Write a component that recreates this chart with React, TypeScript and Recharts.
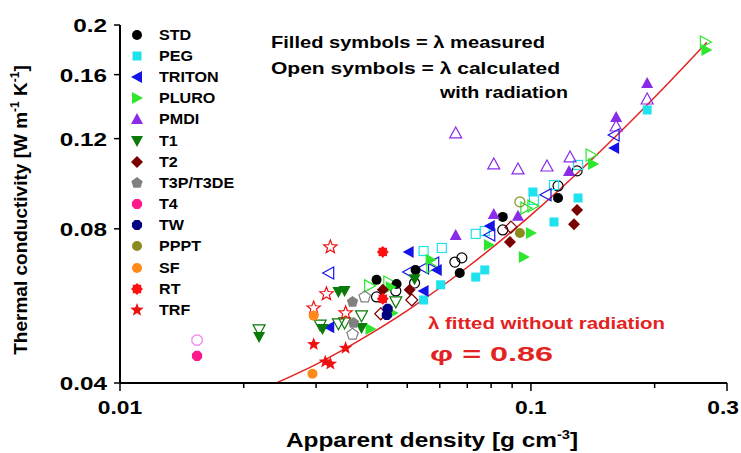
import React from "react";
import { ComposedChart, Scatter, Line, XAxis, YAxis } from "recharts";

// density [g cm-3], conductivity [W m-1 K-1]
const STD = [[0.0421, 0.0636], [0.0471, 0.0624], [0.0524, 0.0665], [0.0671, 0.0656], [0.0854, 0.0844], [0.1164, 0.0919]];
const STD_OPEN = [[0.0421, 0.0589], [0.0469, 0.0605], [0.0521, 0.0627], [0.0653, 0.0689], [0.0679, 0.0702], [0.0854, 0.0796], [0.1164, 0.097], [0.1295, 0.1038]];
const PEG = [[0.0548, 0.0581], [0.0603, 0.0622], [0.0734, 0.0644], [0.0772, 0.0665], [0.1011, 0.0944], [0.1138, 0.0825], [0.1302, 0.0919], [0.1918, 0.1365]];
const PEG_OPEN = [[0.0548, 0.0724], [0.0607, 0.0734], [0.0734, 0.0782], [0.0772, 0.0792], [0.1017, 0.0911], [0.1138, 0.0974], [0.1302, 0.1066]];
const TRITON = [[0.0323, 0.0514], [0.0504, 0.0721], [0.0548, 0.0605], [0.059, 0.0665], [0.0794, 0.081], [0.1594, 0.115]];
const TRITON_OPEN = [[0.0322, 0.0656], [0.0504, 0.0659], [0.0548, 0.0671], [0.058, 0.0686], [0.0794, 0.0778], [0.1088, 0.0932], [0.1594, 0.122]];
const PLURO = [[0.0407, 0.051], [0.0461, 0.0548], [0.0456, 0.0616], [0.057, 0.0696], [0.079, 0.0744], [0.0961, 0.0705], [0.1, 0.0785], [0.1417, 0.1071], [0.2673, 0.1788]];
const PLURO_OPEN = [[0.0405, 0.0619], [0.0451, 0.063], [0.0574, 0.0674], [0.0972, 0.0878], [0.1011, 0.0886], [0.1401, 0.1115], [0.2658, 0.1853]];
const PMDI = [[0.0656, 0.0778], [0.0812, 0.0855], [0.093, 0.0848], [0.1238, 0.1038], [0.1612, 0.1322], [0.1918, 0.1541]];
const PMDI_OPEN = [[0.0656, 0.1231], [0.0812, 0.1071], [0.093, 0.1047], [0.1094, 0.1061], [0.1245, 0.1105], [0.1612, 0.127], [0.1918, 0.1434]];
const T1 = [[0.0218, 0.0492], [0.0311, 0.051], [0.034, 0.0602], [0.0352, 0.0605], [0.0387, 0.0512], [0.0521, 0.0638]];
const T1_OPEN = [[0.0218, 0.0508], [0.0307, 0.0519], [0.034, 0.0522], [0.0352, 0.0524], [0.0387, 0.0541], [0.0469, 0.0576]];
const T2 = [[0.0436, 0.0608], [0.0507, 0.0608], [0.0889, 0.0754], [0.1295, 0.0871], [0.1273, 0.0817]];
const T2_OPEN = [[0.0431, 0.0546], [0.0513, 0.0581], [0.0894, 0.0806]];
const T3P = [[0.0368, 0.0576], [0.037, 0.0524]];
const T3P_OPEN = [[0.0394, 0.0589], [0.0368, 0.0498]];
const T4 = [[0.0154, 0.0452]];
const T4_OPEN = [[0.0154, 0.0485]];
const TW = [[0.0448, 0.0558], [0.0446, 0.0543]];
const PPPT = [[0.094, 0.0785]];
const PPPT_OPEN = [[0.094, 0.0903]];
const SF = [[0.0296, 0.0541], [0.0294, 0.0417]];
const RT = [[0.0436, 0.0721], [0.0436, 0.0584]];
const TRF = [[0.0296, 0.0476], [0.0354, 0.0468], [0.0316, 0.044], [0.0325, 0.0436]];
const TRF_OPEN = [[0.0325, 0.0737], [0.0318, 0.0597], [0.0296, 0.056], [0.0354, 0.0548]];

// red fitted curve
const FIT_DENSITY = [0.024, 0.03, 0.04, 0.05, 0.07, 0.1, 0.15, 0.2, 0.268];
const FIT_LAMBDA = [0.04, 0.0435, 0.0495, 0.0554, 0.0673, 0.0851, 0.1148, 0.1445, 0.185];

const X_TICKS = [0.01, 0.02, 0.03, 0.04, 0.05, 0.06, 0.07, 0.08, 0.09, 0.1, 0.2, 0.3];
const X_LABELS = [0.01, 0.1, 0.3];
const Y_TICKS = [0.04, 0.08, 0.12, 0.16, 0.2];

const FONT = "'Liberation Sans', Arial, sans-serif";
const STRETCH = 1.28; // the original picture is wider than it is tall

const SERIES = [
  { name: "STD", kind: "circle", color: "#000000", filled: STD, open: STD_OPEN },
  { name: "PEG", kind: "square", color: "#1ee3ef", filled: PEG, open: PEG_OPEN },
  { name: "TRITON", kind: "left", color: "#1414e6", filled: TRITON, open: TRITON_OPEN },
  { name: "PLURO", kind: "right", color: "#2ee62e", filled: PLURO, open: PLURO_OPEN },
  { name: "PMDI", kind: "up", color: "#8a2be8", filled: PMDI, open: PMDI_OPEN },
  { name: "T1", kind: "down", color: "#0a7a0a", filled: T1, open: T1_OPEN },
  { name: "T2", kind: "diamond", color: "#7a0000", filled: T2, open: T2_OPEN },
  { name: "T3P/T3DE", kind: "pentagon", color: "#808080", filled: T3P, open: T3P_OPEN },
  { name: "T4", kind: "hexagon", color: "#ff1a8c", filled: T4, open: T4_OPEN, openColor: "#ee82ee" },
  { name: "TW", kind: "hexagon", color: "#000080", filled: TW, open: [] },
  { name: "PPPT", kind: "circle", color: "#8a8a1e", filled: PPPT, open: PPPT_OPEN },
  { name: "SF", kind: "circle", color: "#ff8a1a", filled: SF, open: [] },
  { name: "RT", kind: "gear", color: "#ff1010", filled: RT, open: [] },
  { name: "TRF", kind: "star", color: "#ee1111", filled: TRF, open: TRF_OPEN },
];

const toPts = (arr: number[][]) => arr.map(([x, y]) => ({ x, y }));

function polyPts(cx: number, cy: number, n: number, r: number, r2?: number, rot = -90) {
  const pts: string[] = [];
  const count = r2 ? n * 2 : n;
  for (let i = 0; i < count; i++) {
    const rr = r2 && i % 2 === 1 ? r2 : r;
    const a = ((rot + (360 / count) * i) * Math.PI) / 180;
    pts.push(`${cx + rr * Math.cos(a)},${cy + rr * Math.sin(a)}`);
  }
  return pts.join(" ");
}

function Sym({ kind, cx, cy, color, open }: any) {
  const p = open
    ? { fill: "none", stroke: color, strokeWidth: 1.2 }
    : { fill: color, stroke: "none" };
  switch (kind) {
    case "circle":
      return <circle cx={cx} cy={cy} r={5} {...p} />;
    case "square":
      return <rect x={cx - 4.5} y={cy - 4.5} width={9} height={9} {...p} />;
    case "left":
      return <polygon points={`${cx - 6},${cy} ${cx + 5},${cy - 6} ${cx + 5},${cy + 6}`} {...p} />;
    case "right":
      return <polygon points={`${cx + 6},${cy} ${cx - 5},${cy - 6} ${cx - 5},${cy + 6}`} {...p} />;
    case "up":
      return <polygon points={`${cx},${cy - 6} ${cx - 6},${cy + 5} ${cx + 6},${cy + 5}`} {...p} />;
    case "down":
      return <polygon points={`${cx},${cy + 6} ${cx - 6},${cy - 5} ${cx + 6},${cy - 5}`} {...p} />;
    case "diamond":
      return <polygon points={`${cx},${cy - 6} ${cx + 6},${cy} ${cx},${cy + 6} ${cx - 6},${cy}`} {...p} />;
    case "pentagon":
      return <polygon points={polyPts(cx, cy, 5, 6)} {...p} />;
    case "hexagon":
      return <polygon points={polyPts(cx, cy, 8, 5.5, undefined, -67.5)} {...p} />;
    case "gear":
      return <polygon points={polyPts(cx, cy, 8, 6, 4.5)} {...p} />;
    case "star":
      return <polygon points={polyPts(cx, cy, 5, 7, 3)} {...p} />;
    default:
      return null;
  }
}

function XTick({ x, y, payload }: any) {
  const major = X_LABELS.includes(payload.value);
  const last = payload.value === 0.3;
  return (
    <g>
      <line x1={x} x2={x} y1={y} y2={y + (major ? 8 : 5)} stroke="#000" strokeWidth={1.5} />
      {major && (
        <text
          transform={`translate(${last ? x + 12 : x},${y + 31}) scale(1.2,1)`}
          textAnchor={last ? "end" : "middle"}
          fontFamily={FONT}
          fontWeight="bold"
          fontSize={19}
          fill="#000"
        >
          {payload.value}
        </text>
      )}
    </g>
  );
}

function YTick({ x, y, payload }: any) {
  return (
    <g>
      <line x1={x} x2={x - 6} y1={y} y2={y} stroke="#000" strokeWidth={1.5} />
      <text
        transform={`translate(${x - 13},${y + 7}) scale(${STRETCH},1)`}
        textAnchor="end"
        fontFamily={FONT}
        fontWeight="bold"
        fontSize={19}
        fill="#000"
      >
        {payload.value}
      </text>
    </g>
  );
}

function LegendBox() {
  return (
    <div
      style={{
        position: "absolute",
        left: 128,
        top: 24,
        fontFamily: FONT,
        fontWeight: "bold",
        fontSize: 14,
        pointerEvents: "none",
      }}
    >
      {SERIES.map((s) => (
        <div key={s.name} style={{ display: "flex", alignItems: "center", height: 21.2 }}>
          <svg width={18} height={16} style={{ marginRight: 13 }}>
            <Sym kind={s.kind} cx={9} cy={8} color={s.color} />
          </svg>
          <span style={{ display: "inline-block", transform: "scaleX(1.15)", transformOrigin: "left center" }}>
            {s.name}
          </span>
        </div>
      ))}
    </div>
  );
}

export default function App() {
  const fit = FIT_DENSITY.map((x, i) => ({ x, y: FIT_LAMBDA[i] }));
  return (
    <div style={{ position: "absolute", left: 0, top: 0, width: 741, height: 453, background: "#fff" }}>
      <ComposedChart width={741} height={453} margin={{ top: 25, right: 14, left: 0, bottom: 0 }}>
        <XAxis
          dataKey="x"
          type="number"
          scale="log"
          domain={[0.01, 0.3]}
          ticks={X_TICKS}
          allowDataOverflow
          height={70}
          tickSize={0}
          tickMargin={0}
          tickLine={false}
          tick={<XTick />}
          axisLine={{ stroke: "#000", strokeWidth: 2 }}
          interval={0}
        />
        <XAxis
          xAxisId="top"
          orientation="top"
          dataKey="x"
          type="number"
          scale="log"
          domain={[0.01, 0.3]}
          allowDataOverflow
          height={0}
          tick={false}
          tickLine={false}
          axisLine={{ stroke: "#000", strokeWidth: 2 }}
        />
        <YAxis
          dataKey="y"
          type="number"
          scale="log"
          domain={[0.04, 0.2]}
          ticks={Y_TICKS}
          allowDataOverflow
          width={120}
          tickSize={0}
          tickMargin={0}
          tickLine={false}
          tick={<YTick />}
          axisLine={{ stroke: "#000", strokeWidth: 2 }}
          interval={0}
        />
        <YAxis
          yAxisId="right"
          orientation="right"
          dataKey="y"
          type="number"
          scale="log"
          domain={[0.04, 0.2]}
          allowDataOverflow
          width={0}
          tick={false}
          tickLine={false}
          axisLine={{ stroke: "#000", strokeWidth: 2 }}
        />
        {SERIES.map((s) => (
          <Scatter
            key={s.name + "-open"}
            name={s.name + " open"}
            data={toPts(s.open)}
            isAnimationActive={false}
            legendType="none"
            shape={(props: any) => (
              <Sym kind={s.kind} cx={props.cx} cy={props.cy} color={(s as any).openColor || s.color} open />
            )}
          />
        ))}
        {SERIES.map((s) => (
          <Scatter
            key={s.name}
            name={s.name}
            data={toPts(s.filled)}
            isAnimationActive={false}
            shape={(props: any) => <Sym kind={s.kind} cx={props.cx} cy={props.cy} color={s.color} />}
          />
        ))}
        <Line
          data={fit}
          dataKey="y"
          type="monotone"
          stroke="#e32222"
          strokeWidth={1.5}
          dot={false}
          isAnimationActive={false}
          legendType="none"
        />
      </ComposedChart>
      <LegendBox />
      <svg
        width={741}
        height={453}
        style={{ position: "absolute", left: 0, top: 0, pointerEvents: "none" }}
        fontFamily={FONT}
        fontWeight="bold"
      >
        <text x={271} y={48} fontSize={17} fill="#000" textLength={274} lengthAdjust="spacingAndGlyphs">
          Filled symbols = λ measured
        </text>
        <text x={271} y={74} fontSize={17} fill="#000" textLength={289} lengthAdjust="spacingAndGlyphs">
          Open symbols = λ  calculated
        </text>
        <text x={440} y={98} fontSize={17} fill="#000" textLength={128} lengthAdjust="spacingAndGlyphs">
          with radiation
        </text>
        <text x={428} y={329} fontSize={17} fill="#e32222" textLength={237} lengthAdjust="spacingAndGlyphs">
          λ fitted without radiation
        </text>
        <text x={430} y={361} fontSize={20} fill="#e32222" textLength={123} lengthAdjust="spacingAndGlyphs">
          φ = 0.86
        </text>
        <text transform={`translate(432,447) scale(1.22,1)`} fontSize={20} textAnchor="middle" fill="#000">
          Apparent density [g cm<tspan dy={-8} fontSize={12}>-3</tspan>
          <tspan dy={8}>]</tspan>
        </text>
        <text transform="translate(27,210) rotate(-90)" fontSize={19} textAnchor="middle" fill="#000">
          Thermal conductivity [W m<tspan dy={-8} fontSize={12}>-1</tspan>
          <tspan dy={8}> K</tspan>
          <tspan dy={-8} fontSize={12}>-1</tspan>
          <tspan dy={8}>]</tspan>
        </text>
      </svg>
    </div>
  );
}
